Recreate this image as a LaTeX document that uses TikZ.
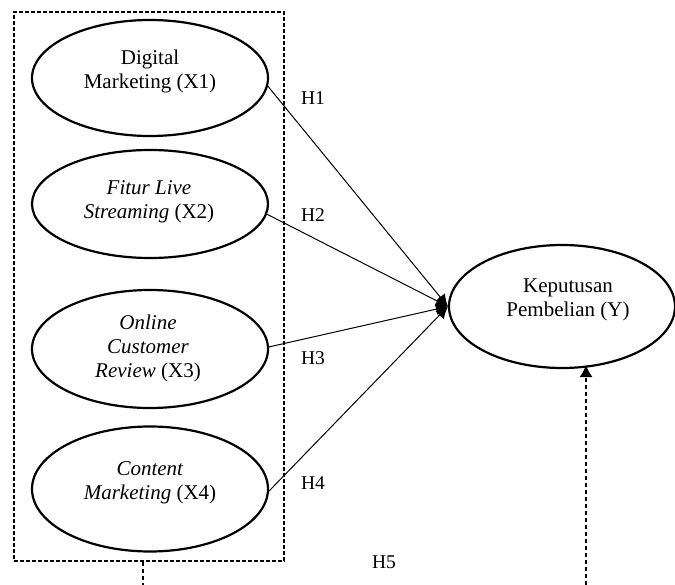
\documentclass[tikz,border=0pt]{standalone}
\usepackage{fontspec}
\setmainfont{Liberation Serif}
\usetikzlibrary{arrows.meta,shapes.geometric}
\begin{document}
\begin{tikzpicture}[x=1pt,y=-1pt,
  var/.style={draw, ellipse, line width=2.2pt, inner sep=0pt},
  txt/.style={align=center, inner sep=0pt, font=\fontsize{21}{24}\selectfont},
  hlab/.style={inner sep=0pt, font=\fontsize{19.5}{22}\selectfont},
  conn/.style={line width=1pt, -{Latex[length=12pt,width=12pt]}},
  grpbox/.style={draw, line width=2pt, dash pattern=on 4pt off 2pt, inner sep=0pt},
  thindash/.style={line width=1.3pt, dash pattern=on 4pt off 3pt},
]
\useasboundingbox (0,0) rectangle (675,585);

\node[grpbox, minimum width=270, minimum height=549] (box) at (149,286.5) {};

\node[var, minimum width=236, minimum height=116] (X1) at (150,78) {};
\node[var, minimum width=236, minimum height=108] (X2) at (150,204) {};
\node[var, minimum width=236, minimum height=118] (X3) at (150,349) {};
\node[var, minimum width=236, minimum height=125] (X4) at (150,489) {};
\node[var, minimum width=226, minimum height=123] (Y) at (562,306.5) {};

\node[txt] (t1) at (150,71) {Digital\\Marketing (X1)};
\node[txt] (t2) at (149,201.5) {\textit{Fitur Live}\\\textit{Streaming} (X2)};
\node[txt] (t3) at (148,348) {\textit{Online}\\\textit{Customer}\\\textit{Review} (X3)};
\node[txt] (t4) at (150,482.5) {\textit{Content}\\\textit{Marketing} (X4)};
\node[txt] (ty) at (568,299.5) {Keputusan\\Pembelian (Y)};

\node[hlab] (h1) at (313,98) {H1};
\node[hlab] (h2) at (313,215) {H2};
\node[hlab] (h3) at (313,358) {H3};
\node[hlab] (h4) at (313,483) {H4};
\node[hlab] (h5) at (384,562) {H5};

\draw[conn] (X1.-4) -- (Y.west);
\draw[conn] (X2.-5) -- (Y.west);
\draw[conn] (X3.1.5) -- (Y.west);
\draw[conn] (X4.-1) -- (Y.west);

\coordinate (bl) at (143,585);
\coordinate (br) at (586,585);
\draw[thindash] (box.south -| bl) -- (bl);
\draw[thindash, -{Latex[length=12pt,width=13pt]}] (br) -- ([yshift=4pt]br |- Y.south);
\end{tikzpicture}
\end{document}
